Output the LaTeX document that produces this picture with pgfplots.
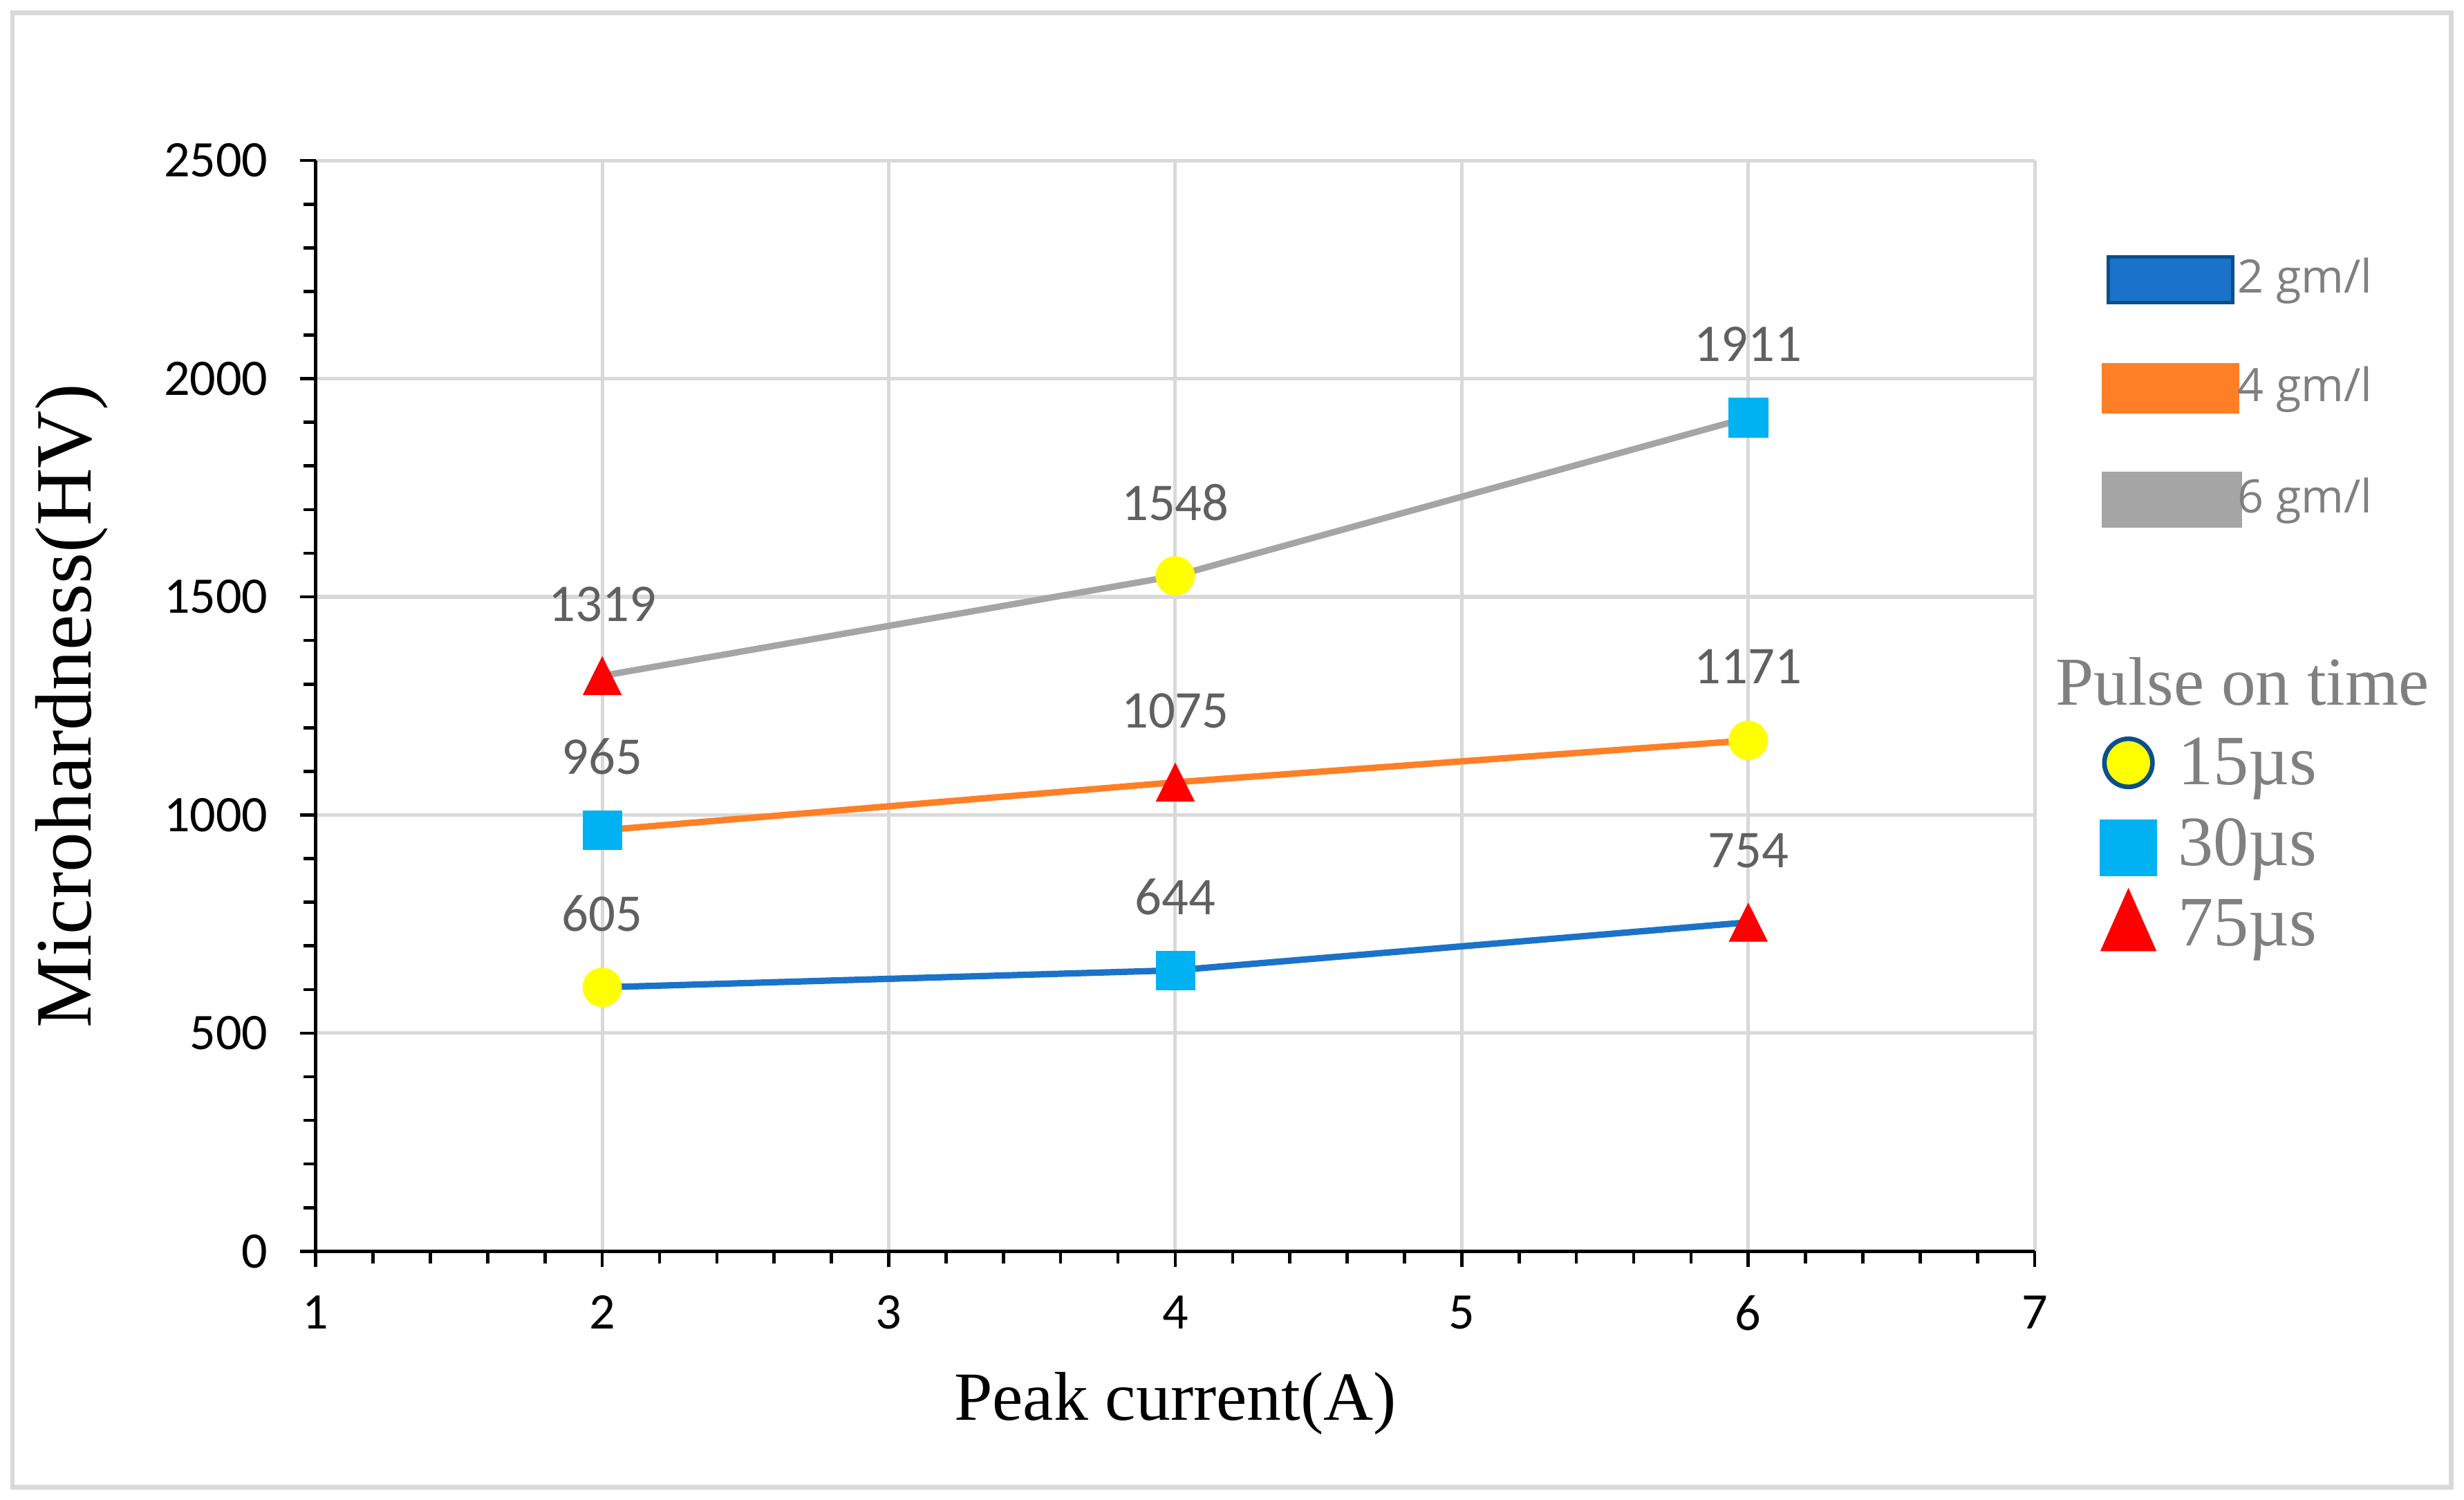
\documentclass[border=0pt]{standalone}
\usepackage{fontspec}
\setmainfont{Carlito}
\newfontfamily\serif{Liberation Serif}
\newfontfamily\legsans{Open Sans}
\usepackage{pgfplots}
\pgfplotsset{compat=1.18}

\definecolor{cblue}{HTML}{1A73C8}
\definecolor{cblueedge}{HTML}{0B4F8C}
\definecolor{corange}{HTML}{FF7F27}
\definecolor{cgray}{HTML}{A5A5A5}
\definecolor{cyel}{HTML}{FFFF00}
\definecolor{ccyan}{HTML}{00B2F2}
\definecolor{cred}{HTML}{FF0000}
\definecolor{gridc}{HTML}{D9D9D9}
\definecolor{labc}{HTML}{606060}
\definecolor{legc}{HTML}{808080}

\begin{document}
\begin{tikzpicture}
\useasboundingbox (-89.3pt,-70.2pt) rectangle (607.6pt,353.8pt);
\draw[gridc, line width=1.3pt] (-85.8pt,-66.7pt) rectangle (604pt,350.2pt);

\begin{axis}[
    at={(0pt,0pt)}, anchor=south west,
    scale only axis, width=486.2pt, height=308.4pt,
    xmin=1, xmax=7, ymin=0, ymax=2500,
    xtick={1,2,...,7}, ytick={0,500,...,2500},
    minor x tick num=4, minor y tick num=4,
    axis lines*=left,
    axis line style={black, line width=0.9pt},
    tick align=outside,
    major tick length=4.5pt, minor tick length=3.4pt,
    tick style={black, line width=0.9pt},
    grid=major,
    major grid style={gridc, line width=1pt},
    tick label style={font=\fontsize{14.5}{17}\selectfont, text=black},
    xticklabel style={yshift=-4.5pt},
    yticklabel style={xshift=-5.5pt},
    /pgf/number format/assume math mode=true,
    /pgf/number format/1000 sep={},
    xlabel={Peak current(A)},
    ylabel={Microhardness(HV)},
    xlabel style={font=\serif\fontsize{19.5}{22}\selectfont,
        at={(axis description cs:0.5,-0.1394)}, anchor=center},
    ylabel style={font=\serif\fontsize{22.6}{26}\selectfont,
        at={(axis description cs:-0.1419,0.5)}, anchor=center},
    nodes near coords style={font=\fontsize{15}{17}\selectfont, text=labc},
    legend style={draw=none, fill=none, at={(1.0385,0.7883)}, anchor=west,
        font=\legsans\fontsize{13}{15}\selectfont, text=legc,
        row sep=16.3pt, inner sep=0pt,
        nodes={inner sep=0.5pt, text height=10pt, text depth=3pt},
        /tikz/every odd column/.style={column sep=-1.8pt}},
    legend cell align=left,
]
% series lines (2, 4, 6 gm/l)
\addplot[cblue, line width=1.8pt, no marks,
    legend image code/.code={\fill[cblue, draw=cblueedge, line width=1pt] (0.9pt,-6.2pt) rectangle (36.1pt,6.6pt);}]
    coordinates {(2,605) (4,644) (6,754)};
\addlegendentry{2 gm/l}
\addplot[corange, line width=1.8pt, no marks,
    legend image code/.code={\fill[corange] (0pt,-6.1pt) rectangle (37.2pt,6.5pt);}]
    coordinates {(2,965) (4,1075) (6,1171)};
\addlegendentry{4 gm/l}
\addplot[cgray, line width=1.8pt, no marks,
    legend image code/.code={\fill[cgray] (0pt,-6.85pt) rectangle (38pt,7.25pt);}]
    coordinates {(2,1319) (4,1548) (6,1911)};
\addlegendentry{6 gm/l}

% markers: pulse on time
\addplot[forget plot, only marks, mark=*, mark size=5.5pt,
    mark options={fill=cyel, draw=cyel, line width=0.1pt},
    point meta=explicit symbolic, nodes near coords,
    every node near coord/.append style={anchor=center, yshift=20.8pt}]
    coordinates {(2,605)[605] (4,1548)[1548] (6,1171)[1171]};
\addplot[forget plot, only marks, mark=square*, mark size=5.5pt,
    mark options={fill=ccyan, draw=ccyan, line width=0.1pt},
    point meta=explicit symbolic, nodes near coords,
    every node near coord/.append style={anchor=center, yshift=20.8pt}]
    coordinates {(4,644)[644] (2,965)[965] (6,1911)[1911]};
\addplot[forget plot, only marks, mark=triangle*, mark size=6.3pt,
    mark options={fill=cred, draw=cred, line width=0.1pt, yshift=-1.8pt, yscale=1.15},
    point meta=explicit symbolic, nodes near coords,
    every node near coord/.append style={anchor=center, yshift=22pt}]
    coordinates {(6,754)[754] (4,1075)[1075] (2,1319)[1319]};
\end{axis}

% second legend
\begin{axis}[
    at={(0pt,0pt)}, anchor=south west,
    scale only axis, width=486.2pt, height=308.4pt,
    hide axis, xmin=0, xmax=1, ymin=0, ymax=1,
    legend style={draw=none, fill=none, at={(1.0376,0.3700)}, anchor=west,
        font=\serif\fontsize{20}{22}\selectfont, text=legc,
        row sep=-0.2pt, inner sep=0pt,
        nodes={inner sep=0.5pt, text height=16pt, text depth=6pt},
        /tikz/every odd column/.style={column sep=5.5pt}},
    legend cell align=left,
]
\addlegendimage{legend image code/.code={\draw[only marks, mark=*, mark size=6.8pt,
    mark options={fill=cyel, draw=cblueedge, line width=1.3pt}] plot coordinates {(8pt,1.2pt)};}}
\addlegendentry{15µs}
\addlegendimage{legend image code/.code={\draw[only marks, mark=square*, mark size=8pt,
    mark options={fill=ccyan, draw=ccyan, line width=0.1pt}] plot coordinates {(8pt,0pt)};}}
\addlegendentry{30µs}
\addlegendimage{legend image code/.code={\draw[only marks, mark=triangle*, mark size=9.1pt,
    mark options={fill=cred, draw=cred, line width=0.1pt, yscale=1.3}] plot coordinates {(8pt,-0.5pt)};}}
\addlegendentry{75µs}
\end{axis}

\node[anchor=base west, inner sep=0pt, text=legc,
    font=\serif\fontsize{19.4}{22}\selectfont] at (491.9pt,154.5pt) {Pulse on time};
\end{tikzpicture}
\end{document}
